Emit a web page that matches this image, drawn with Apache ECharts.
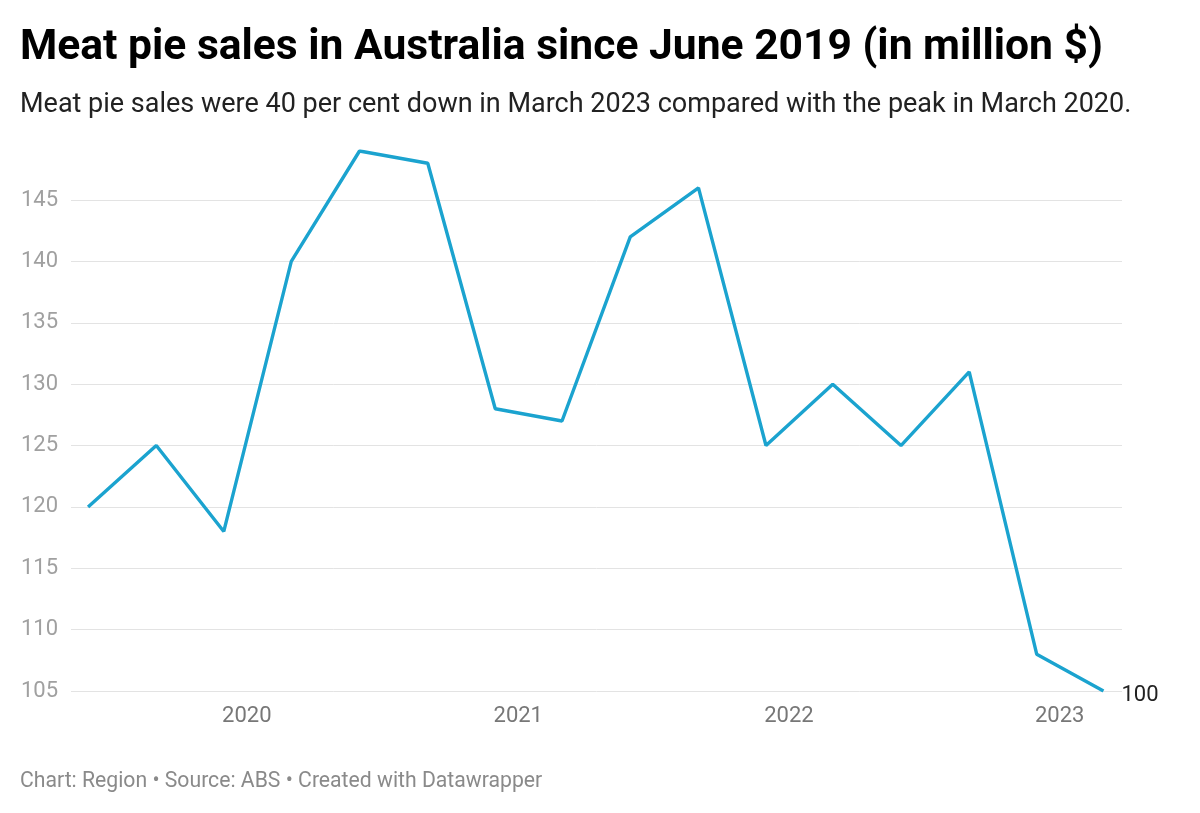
<!DOCTYPE html>
<html>
<head>
<meta charset="utf-8">
<script src="https://cdn.jsdelivr.net/npm/echarts@6/dist/echarts.min.js"></script>
<style>
html,body{margin:0;padding:0;background:#fff;}
#chart{width:1200px;height:813px;}
</style>
</head>
<body>
<div id="chart"></div>
<script>
const titleText = 'Meat pie sales in Australia since June 2019 (in million $)';
const subtitleText = 'Meat pie sales were 40 per cent down in March 2023 compared with the peak in March 2020.';
const footerText = 'Chart: Region • Source: ABS • Created with Datawrapper';
const dates = ['2019-06-01','2019-09-01','2019-12-01','2020-03-01','2020-06-01','2020-09-01','2020-12-01','2021-03-01','2021-06-01','2021-09-01','2021-12-01','2022-03-01','2022-06-01','2022-09-01','2022-12-01','2023-03-01'];
const sales = [120,125,118,140,149,148,128,127,142,146,125,130,125,131,108,105];
const endLabelText = '100';
const yMin = 105, yMax = 149, yStep = 5;
const xMin = '2019-05-09', xMax = '2023-03-26';

const chart = echarts.init(document.getElementById('chart'));
const DAY = 86400000;
chart.setOption({
  animation: false,
  backgroundColor: '#fff',
  textStyle: {fontFamily: 'Roboto'},
  title: [
    {text: titleText, left: 15, top: 22, textStyle: {fontFamily: 'Roboto', fontWeight: 'bold', fontSize: 42.6, color: '#000'}},
    {text: subtitleText, left: 15, top: 87, textStyle: {fontFamily: 'Roboto', fontWeight: 'normal', fontSize: 27, color: '#222'}},
    {text: footerText, left: 15, top: 766, textStyle: {fontFamily: 'Roboto', fontWeight: 'normal', fontSize: 21.2, color: '#8a8a8a'}}
  ],
  grid: {left: 71, right: 78, top: 151, bottom: 122, containLabel: false},
  xAxis: {
    type: 'time',
    min: new Date(xMin).getTime(),
    max: new Date(xMax).getTime(),
    minInterval: 365 * DAY,
    maxInterval: 366 * DAY,
    axisLine: {show: false},
    axisTick: {show: false},
    splitLine: {show: false},
    axisLabel: {
      color: '#777', fontSize: 22, margin: 14, fontFamily: 'Roboto',
      formatter: function (v) { const d = new Date(v); return (d.getMonth() === 0 && d.getDate() === 1) ? String(d.getFullYear()) : ''; },
      showMinLabel: false, showMaxLabel: false
    }
  },
  yAxis: {
    type: 'value',
    min: yMin, max: yMax, interval: yStep,
    axisLine: {show: false},
    axisTick: {show: false},
    splitLine: {show: true, showMaxLine: false, lineStyle: {color: '#e3e3e3', width: 1}},
    axisLabel: {color: '#a0a0a0', fontSize: 22, margin: 13, fontFamily: 'Roboto', showMaxLabel: false}
  },
  series: [{
    type: 'line',
    data: dates.map((d, i) => [d, sales[i]]),
    symbol: 'none',
    lineStyle: {color: '#1ba3cf', width: 3.4},
    endLabel: {show: true, formatter: () => endLabelText, color: '#222', fontSize: 22, fontFamily: 'Roboto', distance: 18, offset: [0, 4]}
  }]
});
</script>
</body>
</html>
